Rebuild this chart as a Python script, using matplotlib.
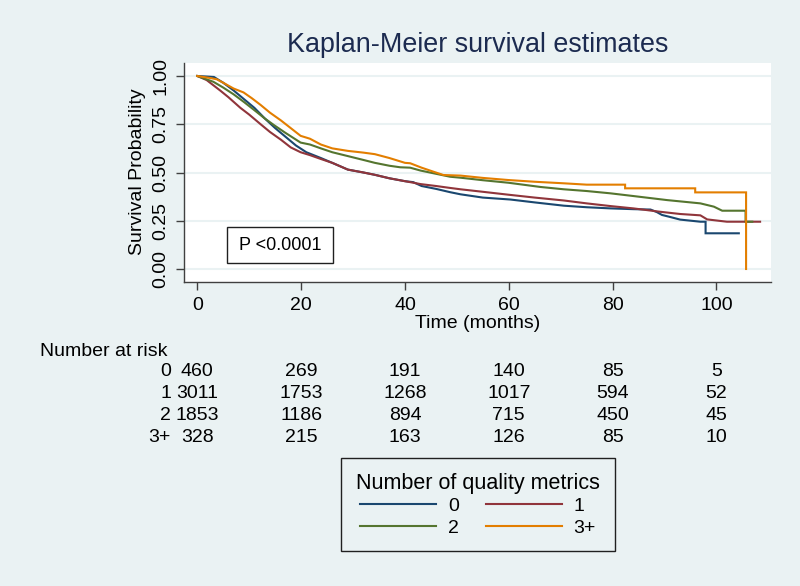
import matplotlib

matplotlib.use("Agg")
import matplotlib.pyplot as plt
from matplotlib.lines import Line2D
from matplotlib.patches import Rectangle

plt.rcParams["font.family"] = ["Liberation Sans", "DejaVu Sans"]

# survival curves (time in months, survival probability)
t_0 = [0, 3.2, 5, 7, 9, 11, 13, 15, 17, 19, 21, 23.8, 26, 29, 32, 34.2, 37, 40, 41.6,
       43.2, 46, 48.7, 50.7, 55, 60.3, 65, 70.6, 75, 79.6, 84, 87.3, 88.5, 89.5, 91, 93,
       96.9, 97.9, 97.9, 104.3]
s_0 = [1.0, 0.995, 0.965, 0.925, 0.88, 0.835, 0.78, 0.73, 0.685, 0.64, 0.605, 0.575,
       0.55, 0.515, 0.5, 0.488, 0.47, 0.455, 0.45, 0.43, 0.415, 0.398, 0.387, 0.37, 0.36,
       0.345, 0.328, 0.32, 0.314, 0.31, 0.308, 0.295, 0.28, 0.27, 0.256, 0.245, 0.245,
       0.185, 0.185]

t_1 = [0, 1.8, 4.4, 6, 8.3, 10, 12.2, 14, 16.1, 18, 19.9, 21.7, 23.8, 26, 29, 32, 34.2,
       37, 40, 43, 46, 48.7, 50.7, 55, 59.9, 65, 70.6, 75, 79.6, 84, 89, 93, 96.9, 98.2,
       102, 108.4]
s_1 = [1.0, 0.979, 0.925, 0.89, 0.835, 0.8, 0.75, 0.71, 0.67, 0.63, 0.605, 0.59, 0.57,
       0.55, 0.515, 0.5, 0.488, 0.47, 0.455, 0.44, 0.43, 0.42, 0.413, 0.4, 0.385, 0.37,
       0.355, 0.34, 0.326, 0.314, 0.297, 0.285, 0.278, 0.257, 0.245, 0.245]

t_2 = [0, 3.1, 5, 7, 9, 10.9, 13, 14.8, 17, 19.9, 21.7, 23.8, 26, 29, 32, 34.2, 37,
       39.1, 41, 43, 45.5, 48.7, 50.7, 55, 59.9, 66.1, 70.6, 75, 79.6, 84, 90.5, 96.9,
       99.5, 101.1, 105.6, 105.6, 106.9]
s_2 = [1.0, 0.97, 0.94, 0.905, 0.865, 0.825, 0.78, 0.745, 0.705, 0.655, 0.645, 0.625,
       0.605, 0.585, 0.565, 0.55, 0.535, 0.527, 0.525, 0.51, 0.496, 0.478, 0.473, 0.46,
       0.447, 0.425, 0.413, 0.404, 0.392, 0.378, 0.357, 0.34, 0.323, 0.302, 0.302, 0.245,
       0.245]

t_3 = [0, 2.4, 3.75, 5, 7, 8.9, 10.5, 12.2, 14, 16.1, 18, 19.9, 21.7, 23.8, 26, 29, 32,
       34.2, 37, 40, 41, 43.2, 45.5, 47.4, 50.7, 55, 59.9, 65, 70.6, 75, 82.4, 82.4, 95.9,
       95.9, 105.7, 105.7]
s_3 = [1.0, 0.99, 0.983, 0.965, 0.935, 0.915, 0.885, 0.85, 0.81, 0.77, 0.73, 0.69, 0.675,
       0.645, 0.625, 0.612, 0.603, 0.595, 0.575, 0.55, 0.548, 0.525, 0.504, 0.487, 0.484,
       0.472, 0.461, 0.452, 0.444, 0.437, 0.437, 0.418, 0.418, 0.397, 0.397, 0.0]

group_labels = ["0", "1", "2", "3+"]
group_colors = ["#1a476f", "#90353b", "#55752f", "#e37e00"]

risk_times = [0, 20, 40, 60, 80, 100]
risk_0 = [460, 269, 191, 140, 85, 5]
risk_1 = [3011, 1753, 1268, 1017, 594, 52]
risk_2 = [1853, 1186, 894, 715, 450, 45]
risk_3 = [328, 215, 163, 126, 85, 10]

x_ticks = [0, 20, 40, 60, 80, 100]
y_ticks = [0.0, 0.25, 0.5, 0.75, 1.0]

BG = "#eaf2f3"
W, H = 800, 586


def fx(px):
    return px / W


def fy(py):
    return 1 - py / H


fig = plt.figure(figsize=(W / 100, H / 100), dpi=100, facecolor=BG)
ax = fig.add_axes([fx(184), fy(282), 587 / W, 219 / H])
ax.set_facecolor("white")

curves = [(t_0, s_0), (t_1, s_1), (t_2, s_2), (t_3, s_3)]
for (tt, ss), color in zip(curves, group_colors):
    ax.plot(tt, ss, color=color, lw=1.5, solid_joinstyle="miter")

ax.set_xlim(-2.56, 110.5)
ax.set_ylim(-0.0674, 1.0674)
ax.set_xticks(x_ticks)
ax.set_yticks(y_ticks)
ax.set_yticklabels([f"{v:.2f}" for v in y_ticks], rotation=90, va="center")
ax.grid(axis="y", color=BG, lw=1.5)
ax.set_axisbelow(True)
for side in ["top", "right"]:
    ax.spines[side].set_visible(False)
for side in ["left", "bottom"]:
    ax.spines[side].set_color("#404040")
    ax.spines[side].set_linewidth(1.0)
ax.tick_params(axis="both", direction="out", length=5.5, width=1.0, color="#404040",
               labelsize=14, pad=5)

# p-value box
ax.add_patch(Rectangle((0.0733, 0.0868), 0.1806, 0.164, transform=ax.transAxes,
                       facecolor="white", edgecolor="#202020", lw=1.0, zorder=5))
ax.text(0.1636, 0.1688, "P <0.0001", transform=ax.transAxes, ha="center", va="center",
        fontsize=13, zorder=6)

fig.text(fx(478), fy(45), "Kaplan-Meier survival estimates", ha="center", va="center",
         fontsize=19.4, color="#1c2b50")
fig.text(fx(138), fy(172), "Survival Probability", ha="center", va="center",
         rotation=90, fontsize=14)
fig.text(fx(478), fy(323), "Time (months)", ha="center", va="center", fontsize=14)

# number at risk table, counts centred under the x ticks
fig.text(fx(40), fy(352), "Number at risk", ha="left", va="center", fontsize=14)
risk_rows = [risk_0, risk_1, risk_2, risk_3]
row_y = [372, 394, 416, 438]
for label, counts, py in zip(group_labels, risk_rows, row_y):
    fig.text(fx(171), fy(py), label, ha="right", va="center", fontsize=14)
    for t, n in zip(risk_times, counts):
        px = ax.transData.transform((t, 0))[0]
        fig.text(px / W, fy(py), str(n), ha="center", va="center", fontsize=14)

handles = [Line2D([], [], color=c, lw=1.5) for c in group_colors]
order = [0, 2, 1, 3]
leg = fig.legend([handles[i] for i in order], [group_labels[i] for i in order],
                 title="Number of quality metrics", ncol=2, loc="upper center",
                 bbox_to_anchor=(fx(478), fy(458)), borderaxespad=0, fontsize=14,
                 title_fontsize=15.5, handlelength=3.9, handletextpad=0.6,
                 columnspacing=1.4, labelspacing=0.2, borderpad=0.75,
                 fancybox=False, framealpha=1, facecolor=BG, edgecolor="#202020")
leg.get_frame().set_linewidth(1.0)

fig.savefig("out.png", dpi=100, facecolor=BG)
